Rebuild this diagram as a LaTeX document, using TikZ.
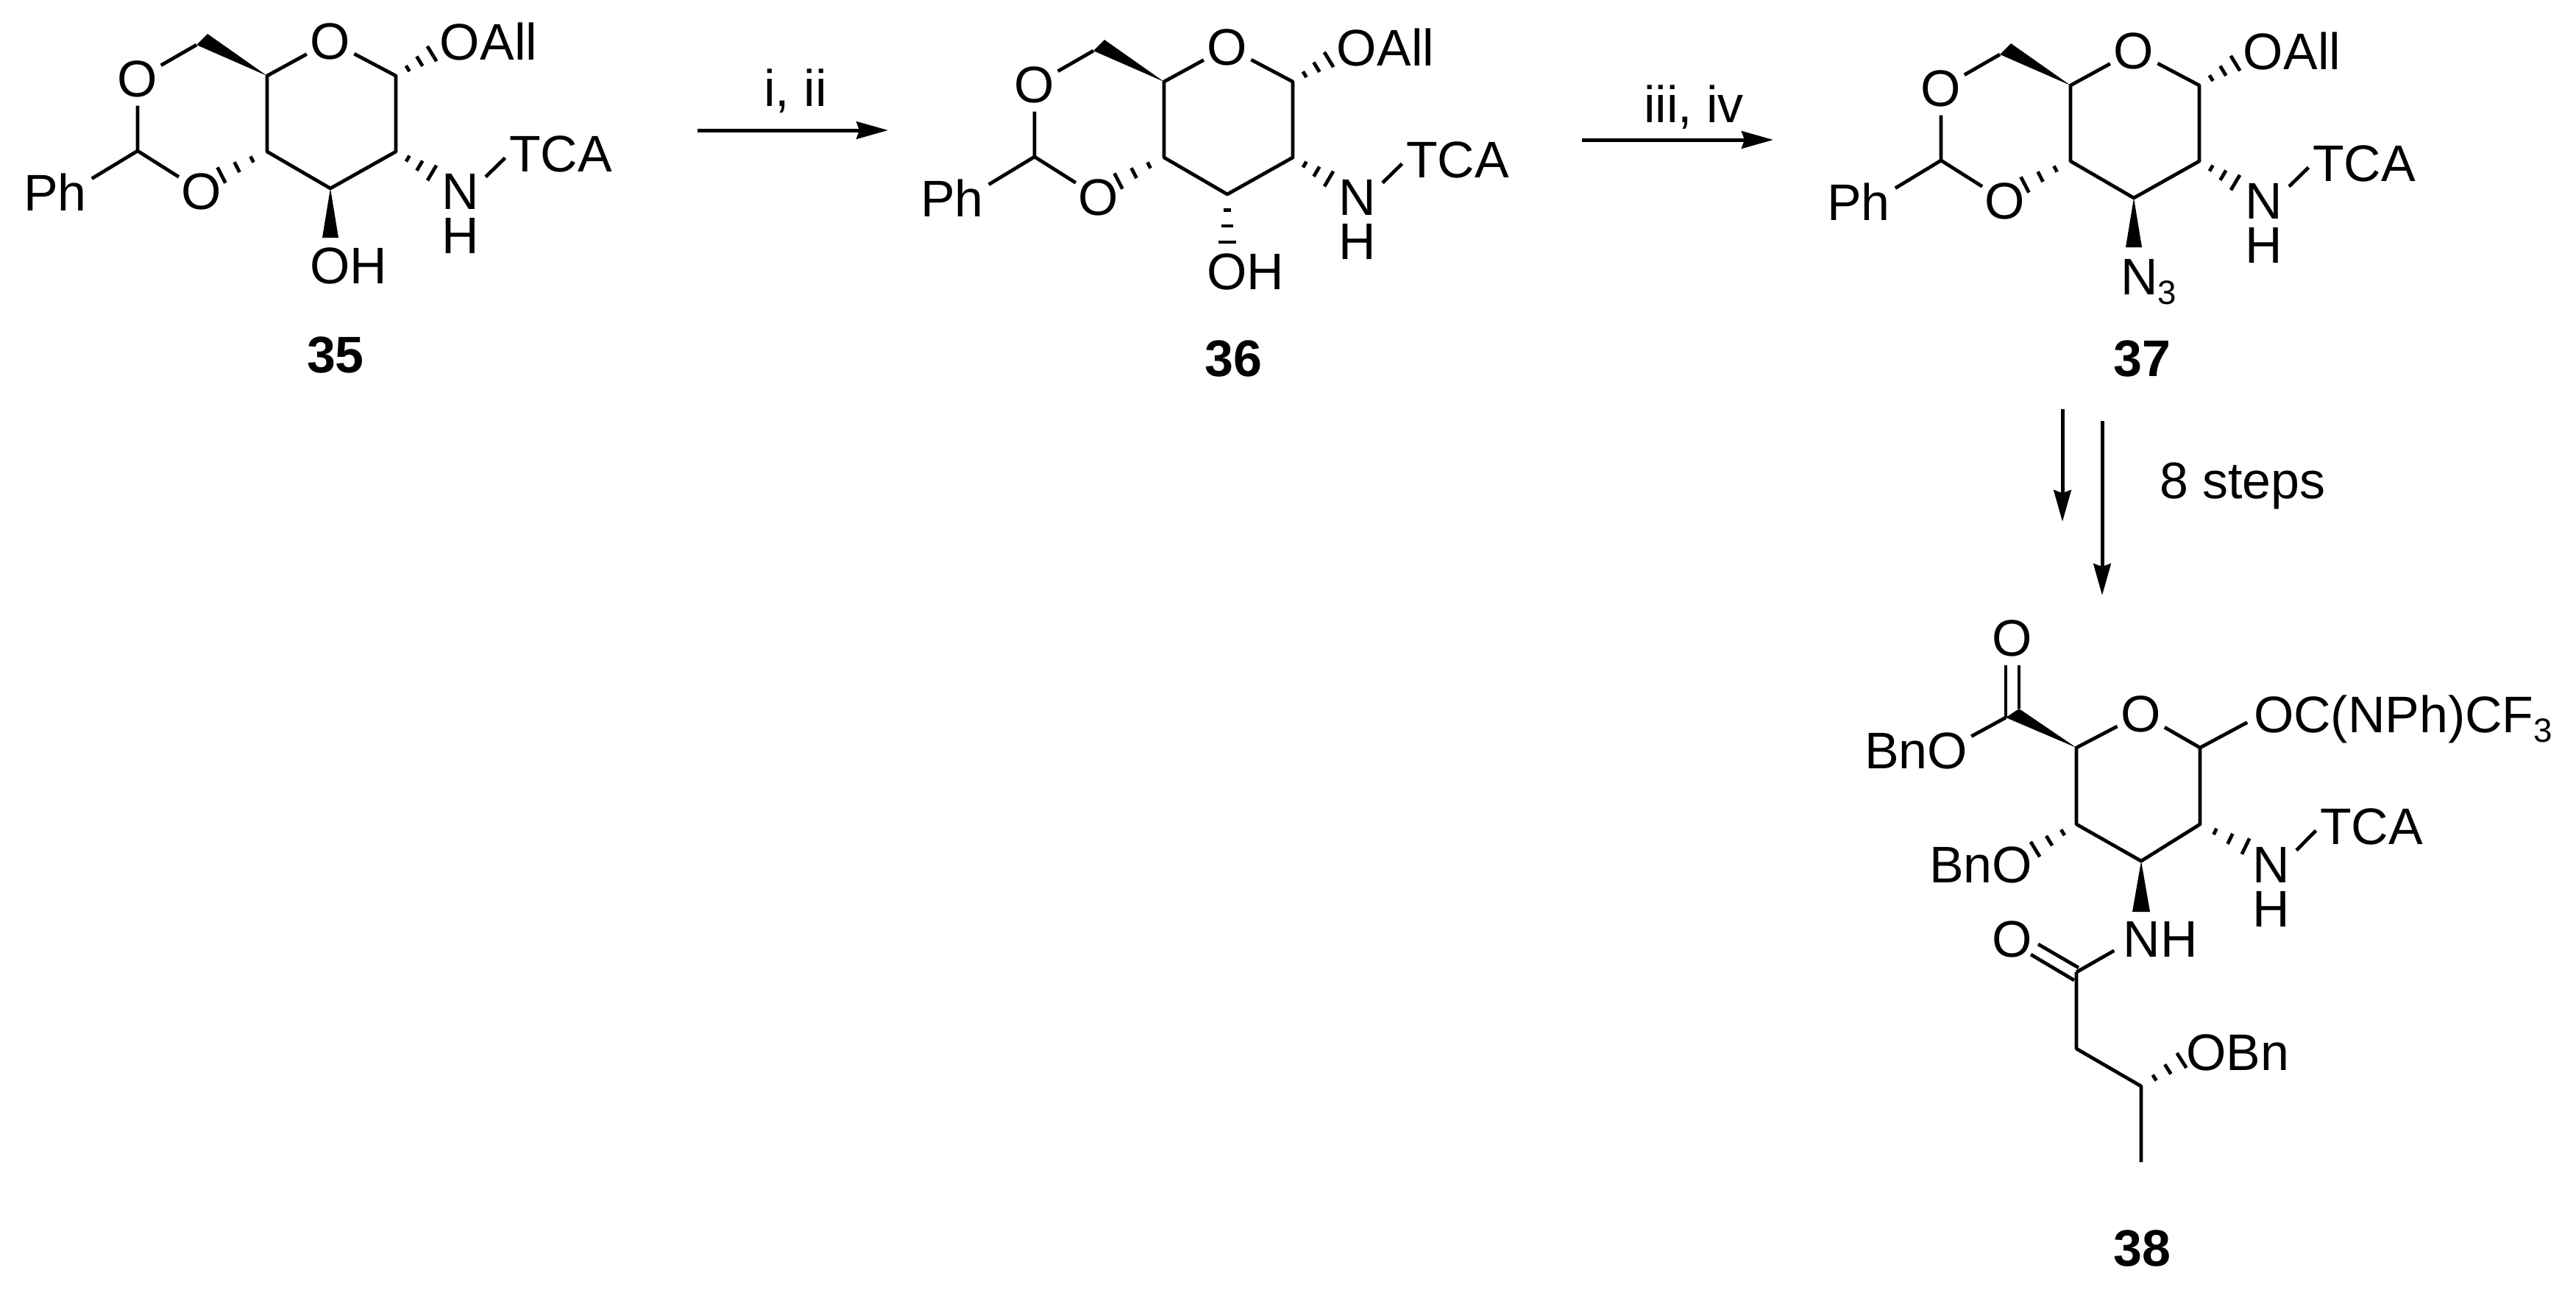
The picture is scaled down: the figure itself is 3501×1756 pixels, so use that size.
\documentclass[tikz,border=0pt]{standalone}
\usepackage{fontspec}
\setmainfont{Liberation Sans}
\usetikzlibrary{calc,arrows.meta}
\tikzset{
  every node/.style={inner sep=0pt,outer sep=0pt,font=\fontsize{39.8}{46}\selectfont},
  bond/.style={line width=0.095cm,line cap=butt,line join=round},
  atomO/.style={circle,minimum size=1.4cm},
  atomNH/.style={align=center,font=\fontsize{39.8}{33.6}\selectfont},
  label/.style={font=\fontsize{39.8}{46}\selectfont\bfseries},
  wedgefill/.style={fill=black},
  rxn/.style={line width=0.1cm,-{Stealth[length=0.86cm,width=0.47cm,inset=0.08cm]}},
  hashtick/.style={line width=0.095cm}
}
\newcommand{\hashb}[2]{%
  \foreach \f/\w in {.33/2.6pt,.66/4.4pt,1/6.8pt}{%
    \draw[hashtick] ($(#1)!\f!(#2)!\w!90:(#1)$) -- ($(#1)!\f!(#2)!\w!-90:(#1)$);
  }%
}
\newcommand{\subthree}{\raisebox{-0.26cm}{\fontsize{26}{30}\selectfont 3}}
\newcommand{\sugar}[4]{%
\begin{scope}[shift={(#2,#3)}]
  \coordinate (#1c5) at (363,103);
  \coordinate (#1c1) at (538,103);
  \coordinate (#1c2) at (538,206);
  \coordinate (#1c3) at (449,256);
  \coordinate (#1c4) at (363,206);
  \coordinate (#1c6) at (267,61);
  \coordinate (#1w6) at (282,46);
  \coordinate (#1ca) at (187,205);
  \coordinate (#1hO) at (587,73);
  \coordinate (#1hN) at (587,235);
  \coordinate (#1hL) at (301,238);
  \coordinate (#1wa) at (438,323);
  \coordinate (#1wb) at (460,323);
  \node[atomO] (#1o) at (449,56) {O};
  \node[atomO] (#1ol) at (187,107) {O};
  \node[atomO] (#1om) at (274,260) {O};
  \node (#1ph) at (75,261) {Ph};
  \node (#1all) at (664,56) {OAll};
  \node[atomNH,anchor=base] (#1n) at (626,344) {N\\H};
  \node (#1t) at (762,209) {TCA};
  \draw[bond] (#1o) -- (#1c1) -- (#1c2) -- (#1c3) -- (#1c4) -- (#1c5) -- (#1o);
  \draw[bond] (#1c6) -- (#1ol);
  \draw[bond] (#1ol) -- (#1ca) -- (#1om);
  \draw[bond] (#1ca) -- ([xshift=4pt,yshift=-4pt]#1ph.north east);
  \draw[bond,shorten >=4.5pt] ([xshift=5pt,yshift=-2pt]#1n.north east) -- (#1t.west);
  \fill[wedgefill] (#1c5) -- (#1c6) -- (#1w6) -- cycle;
  \hashb{#1c1}{#1hO}
  \hashb{#1c2}{#1hN}
  \hashb{#1c4}{#1hL}
  #4
\end{scope}}
\begin{document}
\begin{tikzpicture}[x=0.02cm,y=-0.02cm]
\useasboundingbox (0,0) rectangle (3501,1756);
% 35
\sugar{a}{0}{0}{%
  \node (aoh) at (474,361) {OH};
  \fill[wedgefill] (ac3) -- (awa) -- (awb) -- cycle;
  \node[label] (a35) at (456,482) {35};
}
% 36
\sugar{b}{1219}{8}{%
  \coordinate (bhV) at (449,321);
  \node (boh) at (474,361) {OH};
  \hashb{bc3}{bhV}
  \node[label] (b36) at (457,479) {36};
}
% 37
\sugar{c}{2451}{13}{%
  \node[anchor=base west] (cn3) at (431,387) {N\subthree};
  \fill[wedgefill] (cc3) -- (cwa) -- (cwb) -- cycle;
  \node[label] (c37) at (460,474) {37};
}
% arrows
\coordinate (r1a) at (948,177);
\coordinate (r1b) at (1207,177);
\node[anchor=base] (r1t) at (1081,144) {i, ii};
\draw[rxn] (r1a) -- (r1b);
\coordinate (r2a) at (2150,190);
\coordinate (r2b) at (2410,190);
\node[anchor=base] (r2t) at (2302,166) {iii, iv};
\draw[rxn] (r2a) -- (r2b);
\coordinate (r3a) at (2803,556);
\coordinate (r3b) at (2803,709);
\draw[rxn] (r3a) -- (r3b);
\coordinate (r4a) at (2857,572);
\coordinate (r4b) at (2857,809);
\draw[rxn] (r4a) -- (r4b);
\node (r4t) at (3048,660) {8 steps};
% 38
\coordinate (dc5) at (2822,1016);
\coordinate (dc1) at (2990,1016);
\coordinate (dc2) at (2990,1120);
\coordinate (dc3) at (2910,1170);
\coordinate (dc4) at (2822,1120);
\coordinate (dcc) at (2726,975);
\coordinate (dwc) at (2744,963);
\coordinate (dam) at (2822,1321);
\coordinate (dch2) at (2822,1425);
\coordinate (dch) at (2910,1476);
\coordinate (dme) at (2910,1579);
\coordinate (dwa) at (2898,1239);
\coordinate (dwb) at (2922,1239);
\coordinate (dhN) at (3052,1150);
\coordinate (dhO) at (2766,1154);
\coordinate (dhB) at (2965,1441);
\coordinate (dd1) at (2770,1283);
\coordinate (dd2) at (2825,1315);
\coordinate (dd3) at (2760,1297);
\coordinate (dd4) at (2819,1332);
\node[atomO] (do) at (2910,970) {O};
\node[atomO] (doc) at (2735,867) {O};
\node[anchor=base west] (doa) at (3063,995) {OC(NPh)CF\subthree};
\node (dbn) at (2604,1020) {BnO};
\node (dbn2) at (2692,1175) {BnO};
\node[atomNH,anchor=base] (dn) at (3087,1259) {N\\H};
\node (dt) at (3223,1123) {TCA};
\node (dnh) at (2936,1276) {NH};
\node[atomO] (dom) at (2735,1276) {O};
\node (dob) at (3041,1430) {OBn};
\node[label] (d38) at (2911,1696) {38};
\draw[bond] (do) -- (dc1) -- (dc2) -- (dc3) -- (dc4) -- (dc5) -- (do);
\draw[bond,shorten >=5.7pt] (dc1) -- (doa.west);
\draw[bond] (dcc) -- (dcc |- doc.south);
\draw[bond] (dwc) -- (dwc |- doc.south);
\draw[bond] (dcc) -- ([xshift=3pt,yshift=-3pt]dbn.north east);
\draw[bond,shorten >=4.5pt] ([xshift=5pt,yshift=-2pt]dn.north east) -- (dt.west);
\draw[bond,shorten >=8pt] (dam) -- ([yshift=-5pt]dnh.west);
\draw[bond] (dd1) -- (dd2);
\draw[bond] (dd3) -- (dd4);
\draw[bond] (dam) -- (dch2) -- (dch) -- (dme);
\fill[wedgefill] (dc5) -- (dcc) -- (dwc) -- cycle;
\fill[wedgefill] (dc3) -- (dwa) -- (dwb) -- cycle;
\hashb{dc2}{dhN}
\hashb{dc4}{dhO}
\hashb{dch}{dhB}
\end{tikzpicture}
\end{document}
